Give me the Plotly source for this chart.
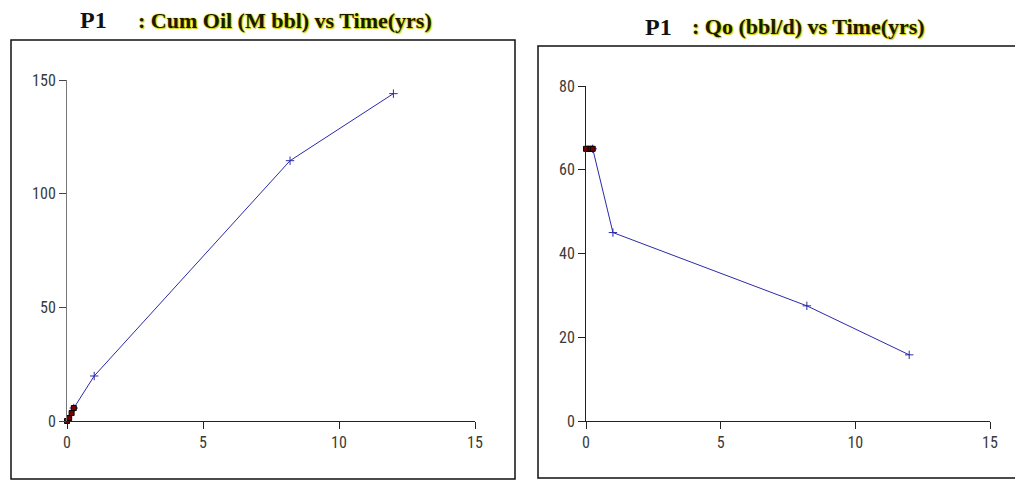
import plotly.graph_objects as go

# ---- data ----
time_yrs = [0.0, 0.08, 0.17, 0.25, 1.0, 8.2, 12.0]
cum_oil_mbbl = [0.0, 1.3, 3.5, 5.7, 19.8, 114.5, 144.0]
qo_bbl_d = [65.0, 65.0, 65.0, 65.0, 45.0, 27.5, 15.8]
early_n = 4  # early points drawn as dark-red squares

cum_xticks = [0, 5, 10, 15]
cum_yticks = [0, 50, 100, 150]
qo_xticks = [0, 5, 10, 15]
qo_yticks = [0, 20, 40, 60, 80]

# page body margin is 8px, so the figure starts at (8, 8) on screen
OFF = 8
W, H = 1023 - OFF, 488 - OFF
def px(x):
    return (x - OFF) / W
def py(y):
    return (H - (y - OFF)) / H

line_col = "#2a2aa8"
sq_col = "#7a0000"
tick_font = dict(family="Liberation Sans Narrow, Roboto Condensed, Arial Narrow, Liberation Sans, sans-serif",
                 size=16, color="#3a3a3a")

fig = go.Figure()

for i, (yvals, xa, ya) in enumerate([(cum_oil_mbbl, "x", "y"), (qo_bbl_d, "x2", "y2")]):
    fig.add_trace(go.Scatter(
        x=time_yrs[early_n - 1:], y=yvals[early_n - 1:], xaxis=xa, yaxis=ya,
        mode="lines+markers", line=dict(color=line_col, width=1),
        marker=dict(symbol="cross-thin", size=6, line=dict(color=line_col, width=1)),
        cliponaxis=False, showlegend=False, hoverinfo="x+y"))
    fig.add_trace(go.Scatter(
        x=time_yrs[:early_n], y=yvals[:early_n], xaxis=xa, yaxis=ya,
        mode="lines+markers", line=dict(color=line_col, width=1),
        marker=dict(symbol="square", size=5, color=sq_col, line=dict(color="#000000", width=1)),
        cliponaxis=False, showlegend=False, hoverinfo="x+y"))

axis_common = dict(showgrid=False, zeroline=False, showline=True, linewidth=1,
                   ticks="outside", ticklen=7, tickwidth=1, tickfont=tick_font,
                   fixedrange=True, automargin=False)

fig.update_layout(
    width=W, height=H,
    margin=dict(l=0, r=0, t=0, b=0),
    paper_bgcolor="white", plot_bgcolor="white",
    xaxis=dict(domain=[px(67), px(475)], range=[0, 15], tickvals=cum_xticks,
               anchor="y", linecolor="#222222", tickcolor="#222222", **axis_common),
    yaxis=dict(domain=[py(421), py(80)], range=[0, 150], tickvals=cum_yticks,
               anchor="x", linecolor="#777777", tickcolor="#444444", **axis_common),
    xaxis2=dict(domain=[px(586), px(990)], range=[0, 15], tickvals=qo_xticks,
                anchor="y2", linecolor="#222222", tickcolor="#222222", **axis_common),
    yaxis2=dict(domain=[py(421), py(86)], range=[0, 80], tickvals=qo_yticks,
                anchor="x2", linecolor="#222222", tickcolor="#222222", **axis_common),
)

# panel boxes
fig.add_shape(type="rect", xref="paper", yref="paper",
              x0=px(11), x1=px(515), y0=py(479), y1=py(40),
              line=dict(color="#111111", width=1.5), layer="below")
fig.add_shape(type="rect", xref="paper", yref="paper",
              x0=px(538), x1=px(1040), y0=py(478), y1=py(46),
              line=dict(color="#111111", width=1.5), layer="below")

title_font = dict(family="Liberation Serif, Times New Roman, serif", size=24, color="#111111",
                  weight="bold")
glow_font = dict(family="Liberation Serif, Times New Roman, serif", size=22, color="#1a1a00",
                 weight="bold",
                 shadow="0px 0px 1px #f0f000, 0px 0px 2px #d8d800, 1px 1px 1px #c8c800")

def title(xp, yp, text, font, anchor="left"):
    fig.add_annotation(xref="paper", yref="paper", x=px(xp), y=py(yp), text=text,
                       showarrow=False, xanchor=anchor, yanchor="middle", font=font)

title(78, 20, "P1", title_font)
title(136, 20, ": Cum Oil (M bbl) vs Time(yrs)", glow_font)
title(643, 27, "P1", title_font)
title(690, 27, ": Qo (bbl/d) vs Time(yrs)", glow_font)

fig.write_html("out.html")
